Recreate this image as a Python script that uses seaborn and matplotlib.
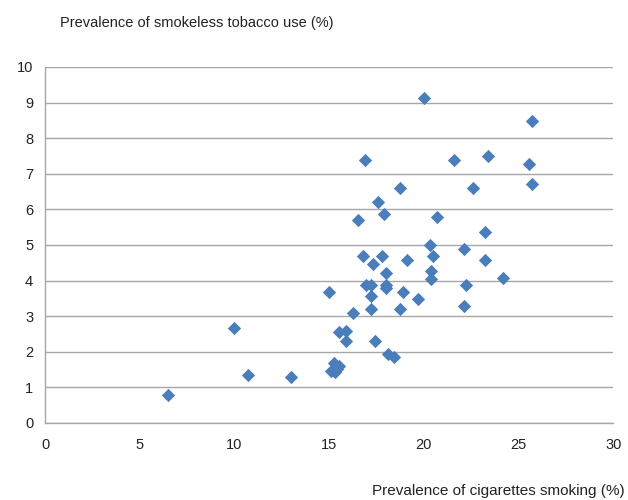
import matplotlib
matplotlib.use("Agg")
import matplotlib.pyplot as plt
import seaborn as sns
import pandas as pd

cigarettes = [6.5, 10.0, 10.7, 13.0, 15.0, 15.1, 15.25, 15.4, 15.5, 15.3,
              15.5, 15.9, 15.9, 16.25, 16.5, 16.8, 16.9, 16.95, 17.2, 17.2,
              17.2, 17.3, 17.4, 17.6, 17.8, 17.9, 18.0, 18.0, 18.0, 18.1,
              18.4, 18.75, 18.75, 18.9, 19.1, 19.7, 20.0, 20.3, 20.5, 20.4,
              20.4, 20.7, 21.6, 22.1, 22.2, 22.1, 22.6, 23.2, 23.2, 23.4,
              24.2, 25.55, 25.7, 25.7]
smokeless = [0.79, 2.68, 1.36, 1.28, 3.69, 1.47, 1.68, 1.52, 1.6, 1.42,
             2.57, 2.58, 2.29, 3.08, 5.70, 4.70, 7.39, 3.88, 3.88, 3.58,
             3.19, 4.48, 2.3, 6.2, 4.70, 5.87, 4.2, 3.87, 3.78, 1.95,
             1.86, 6.59, 3.19, 3.69, 4.59, 3.48, 9.12, 5.0, 4.70, 4.28,
             4.05, 5.78, 7.39, 4.88, 3.87, 3.3, 6.59, 5.37, 4.59, 7.5,
             4.08, 7.28, 8.49, 6.7]

x_ticks = [0, 5, 10, 15, 20, 25, 30]
y_ticks = list(range(0, 11))

df = pd.DataFrame({"cig": cigarettes, "sml": smokeless})

sns.set_style("white")
plt.rcParams["font.family"] = ["Liberation Sans", "DejaVu Sans"]

fig = plt.figure(figsize=(6.28, 5.0), dpi=100)
ax = fig.add_axes([0.0717, 0.154, 0.905, 0.712])

sns.scatterplot(data=df, x="cig", y="sml", marker="D", s=46, color="#4a7ebb",
                linewidth=0, ax=ax, zorder=3)

ax.set_xlim(0, 30)
ax.set_ylim(0, 10)
ax.set_xticks(x_ticks)
ax.set_yticks(y_ticks)
ax.yaxis.grid(True, color="#a6a6a6", linewidth=1.0)
ax.xaxis.grid(False)
ax.set_axisbelow(True)

for side in ["top", "right"]:
    ax.spines[side].set_visible(False)
for side in ["left", "bottom"]:
    ax.spines[side].set_color("#a6a6a6")
    ax.spines[side].set_linewidth(1.0)

ax.tick_params(axis="both", which="both", length=5, color="#a6a6a6",
               labelsize=10.5, labelcolor="#222222", direction="out")
ax.tick_params(axis="x", pad=6)

ax.set_xlabel("")
ax.set_ylabel("")
fig.text(0.096, 0.955, "Prevalence of smokeless tobacco use (%)", fontsize=10.5,
         color="#222222", ha="left", va="center")
fig.text(0.995, 0.018, "Prevalence of cigarettes smoking (%)", fontsize=11,
         color="#222222", ha="right", va="center")

fig.savefig("out.png", dpi=100)
